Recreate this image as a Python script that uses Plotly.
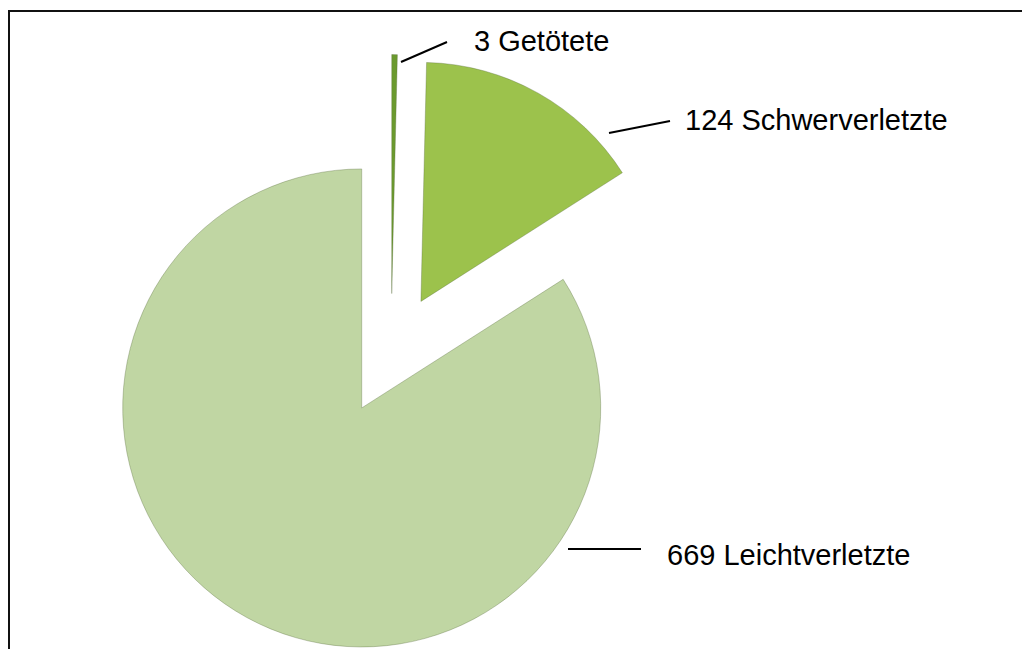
import plotly.graph_objects as go

# Unfallfolgen (Personen)
kategorien = ["Getötete", "Schwerverletzte", "Leichtverletzte"]
anzahl = [3, 124, 669]
farben = ["#6b9a2e", "#9cc24c", "#c0d6a3"]

# the original picture is cropped at the bottom, so the figure is a bit
# taller than the 649px window and the page does not scroll
W, H = 1022, 662

# pie geometry in pixels (centre, radius) -> plotly domain
cx, cy, r, pull = 391, 354.5, 239, 0.255
half = r * (1 + pull)


def px_x(x):
    return x / W


def px_y(y):
    return 1 - y / H


trace = go.Pie(
    labels=kategorien,
    values=anzahl,
    sort=False,
    direction="clockwise",
    rotation=0,
    pull=[pull] * len(anzahl),
    marker=dict(colors=farben, line=dict(color="rgba(90,110,60,0.35)", width=1)),
    textinfo="none",
    hoverinfo="label+value",
    showlegend=False,
    domain=dict(
        x=[(cx - half) / W, (cx + half) / W],
        y=[max(0, px_y(cy + half)), px_y(cy - half)],
    ),
)

# label positions (left edge, vertical centre) and leader lines
label_pos = [(472, 41), (683, 120), (665, 555)]
leader = [((401, 62), (447, 42)), ((609, 133), (670, 121)), ((568, 549), (641, 549))]

annotations = []
shapes = []
for name, val, (lx, ly), ((x0, y0), (x1, y1)) in zip(kategorien, anzahl, label_pos, leader):
    annotations.append(dict(
        text=f"{val} {name}",
        x=px_x(lx), y=px_y(ly), xref="paper", yref="paper",
        xanchor="left", yanchor="middle", showarrow=False,
        font=dict(family="Liberation Sans, Arial", size=29, color="#000000"),
    ))
    shapes.append(dict(
        type="line", xref="paper", yref="paper",
        x0=px_x(x0), y0=px_y(y0), x1=px_x(x1), y1=px_y(y1),
        line=dict(color="#000000", width=2),
    ))

# frame around the chart (cut off at right and bottom)
shapes.append(dict(
    type="rect", xref="paper", yref="paper",
    x0=px_x(9), y0=-0.05, x1=1.05, y1=px_y(11),
    line=dict(color="#111111", width=2),
))

layout = go.Layout(
    width=W, height=H,
    margin=dict(l=0, r=0, t=0, b=0),
    paper_bgcolor="white",
    plot_bgcolor="white",
    annotations=annotations,
    shapes=shapes,
)

fig = go.Figure(data=[trace], layout=layout)
# no default body margin, no scrollbars
fig.write_html(
    "out.html",
    config={"displayModeBar": False},
    post_script="document.body.style.margin='0';document.body.style.overflow='hidden';",
)
